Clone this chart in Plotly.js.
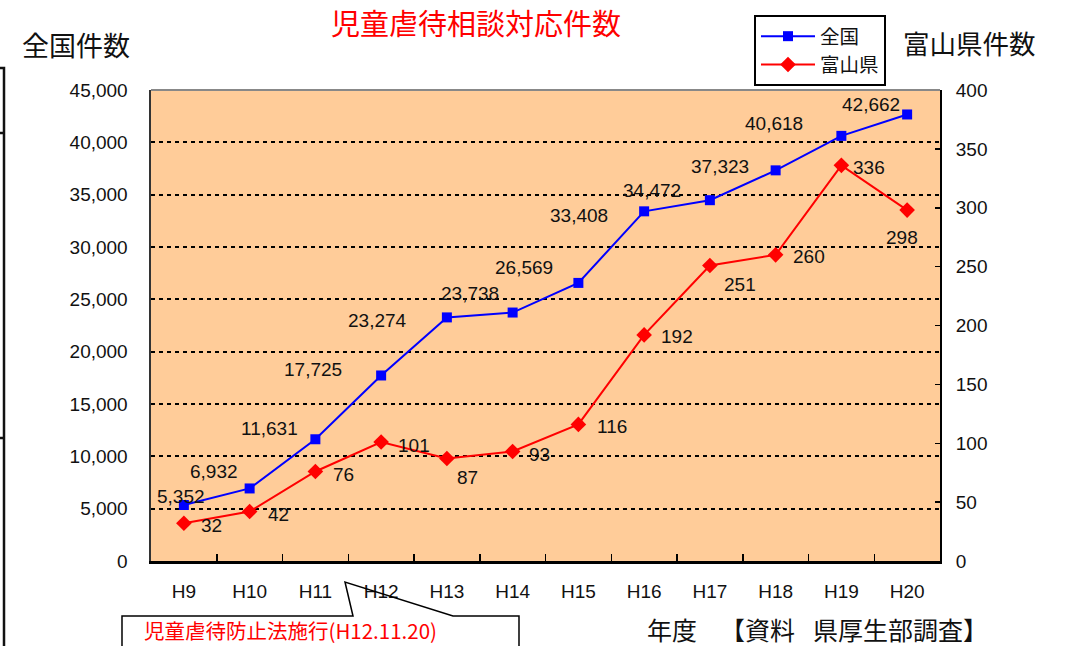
<!DOCTYPE html>
<html>
<head>
<meta charset="utf-8">
<script src="https://cdn.plot.ly/plotly-3.0.1.min.js"></script>
<style>html,body{margin:0;padding:0;background:#fff;}#chart{width:1065px;height:646px;}</style>
</head>
<body>
<div id="chart"></div>
<script>
// ---- data ----
const years = ["H9","H10","H11","H12","H13","H14","H15","H16","H17","H18","H19","H20"];
const national = [5352, 6932, 11631, 17725, 23274, 23738, 26569, 33408, 34472, 37323, 40618, 42662];
const toyama = [32, 42, 76, 101, 87, 93, 116, 192, 251, 260, 336, 298];
const seriesNames = ["全国", "富山県"];
const titleText = "児童虐待相談対応件数";
const leftTitle = "全国件数";
const rightTitle = "富山県件数";
const xTitle = "年度";
const sourceText = "【資料\u2002 県厚生部調査】";
const calloutText = "児童虐待防止法施行(H12.11.20)";

// ---- label offsets (style, px) ----
const natOff = [[-3,-8],[-36,-17],[-46,-11],[-68,-6],[-69,3],[-43,-19],[-54,-15],[-65,4],[-58,-10],[-56,-4],[-67,-12],[-36,-10]];
const toyOff = [[28,2],[29,3],[28,3],[33,3],[21,19],[27,3],[34,2],[33,2],[30,19],[33,2],[28,2],[-5,27]];

const W = 1065, H = 646;
const M = {l:151, r:125, t:90, b:85};
const PW = W - M.l - M.r, PH = H - M.t - M.b;
const fx = x => (x - M.l) / PW;
const fy = y => (H - M.b - y) / PH;

const CJK = '"Noto Sans CJK JP", "Noto Sans", sans-serif';
const LAT = '"Liberation Sans", Arial, sans-serif';
const txtCol = '#111111';

const traces = [
  {x: years, y: national, name: seriesNames[0], type: 'scatter', mode: 'lines+markers',
   line: {color: '#0000ff', width: 2}, marker: {symbol: 'square', size: 10, color: '#0000ff'},
   yaxis: 'y', cliponaxis: false},
  {x: years, y: toyama, name: seriesNames[1], type: 'scatter', mode: 'lines+markers',
   line: {color: '#ff0000', width: 2}, marker: {symbol: 'diamond', size: 12, color: '#ff0000'},
   yaxis: 'y2', cliponaxis: false}
];

const annotations = [];
const fmt = v => v.toLocaleString('en-US');
years.forEach((c, i) => {
  annotations.push({x: c, y: national[i], xref: 'x', yref: 'y', text: fmt(national[i]), showarrow: false,
    xshift: natOff[i][0], yshift: -natOff[i][1], font: {family: LAT, size: 19, color: txtCol}});
  annotations.push({x: c, y: toyama[i], xref: 'x', yref: 'y2', text: String(toyama[i]), showarrow: false,
    xshift: toyOff[i][0], yshift: -toyOff[i][1], font: {family: LAT, size: 19, color: txtCol}});
});
annotations.push({xref: 'paper', yref: 'paper', x: fx(76), y: fy(44), text: leftTitle, showarrow: false,
  xanchor: 'center', yanchor: 'middle', font: {family: CJK, size: 27, color: txtCol}});
annotations.push({xref: 'paper', yref: 'paper', x: fx(969), y: fy(42), text: rightTitle, showarrow: false,
  xanchor: 'center', yanchor: 'middle', font: {family: CJK, size: 26.5, color: txtCol}});
annotations.push({xref: 'paper', yref: 'paper', x: fx(672), y: fy(629), text: xTitle, showarrow: false,
  xanchor: 'center', yanchor: 'middle', font: {family: CJK, size: 25, color: txtCol}});
annotations.push({xref: 'paper', yref: 'paper', x: fx(854), y: fy(629), text: sourceText, showarrow: false,
  xanchor: 'center', yanchor: 'middle', font: {family: CJK, size: 25, color: txtCol}});
annotations.push({xref: 'paper', yref: 'paper', x: fx(142), y: fy(629.5), text: calloutText, showarrow: false,
  xanchor: 'left', yanchor: 'middle', font: {family: CJK, size: 20.5, color: '#ff0000'}});

const P = (x, y) => fx(x).toFixed(5) + ',' + fy(y).toFixed(5);
const shapes = [
  {type: 'line', xref: 'paper', yref: 'paper', x0: 0, x1: 1, y0: 1, y1: 1, line: {color: '#888', width: 2}, layer: 'below'},
  {type: 'path', xref: 'paper', yref: 'paper', layer: 'above',
   path: 'M' + P(122, 660) + ' L' + P(122, 616) + ' L' + P(353, 616) + ' L' + P(345, 582) + ' L' + P(453, 616) + ' L' + P(519, 616) + ' L' + P(519, 660),
   fillcolor: 'rgba(0,0,0,0)', line: {color: '#000', width: 1.5}},
  {type: 'path', xref: 'paper', yref: 'paper', layer: 'above',
   path: 'M' + P(0, 68) + ' L' + P(4, 68) + ' L' + P(4, 660),
   line: {color: '#111', width: 2.5}},
  {type: 'line', xref: 'paper', yref: 'paper', x0: fx(0), x1: fx(4), y0: fy(133), y1: fy(133), line: {color: '#111', width: 2.5}},
  {type: 'line', xref: 'paper', yref: 'paper', x0: fx(0), x1: fx(4), y0: fy(438), y1: fy(438), line: {color: '#111', width: 2.5}}
];

const layout = {
  width: W, height: H,
  margin: M,
  paper_bgcolor: '#ffffff',
  plot_bgcolor: '#ffcc99',
  showlegend: true,
  title: {text: titleText, font: {family: CJK, size: 29, color: '#ff0000'},
    x: 476 / W, xref: 'container', xanchor: 'center', y: 1 - 25 / H, yref: 'container', yanchor: 'middle'},
  legend: {x: fx(754), y: fy(15), xanchor: 'left', yanchor: 'top', bgcolor: '#ffffff',
    bordercolor: '#000', borderwidth: 2, itemwidth: 54, font: {family: CJK, size: 19.5, color: txtCol}, tracegroupgap: 0},
  xaxis: {type: 'category', range: [-0.5, 11.5], showgrid: false, zeroline: false,
    showline: true, linecolor: '#000', linewidth: 2.5, ticks: 'inside', tickson: 'boundaries',
    ticklen: 7, tickwidth: 1.5, tickcolor: '#000', ticklabelstandoff: 12,
    tickfont: {family: LAT, size: 19, color: txtCol}, fixedrange: true},
  yaxis: {range: [0, 45000], dtick: 5000, tickformat: ',d', showgrid: true, gridcolor: '#000', gridwidth: 2,
    griddash: '4px,4px', zeroline: false, showline: true, linecolor: '#333', linewidth: 2.5,
    ticks: 'inside', ticklen: 4, tickwidth: 1.5, tickcolor: '#000', ticklabelstandoff: 17,
    tickfont: {family: LAT, size: 19, color: txtCol}},
  yaxis2: {range: [0, 400], dtick: 50, overlaying: 'y', side: 'right', showgrid: false, zeroline: false,
    showline: true, linecolor: '#000', linewidth: 2, ticks: 'inside', ticklen: 5, tickwidth: 1.5, tickcolor: '#000',
    ticklabelstandoff: 10, tickfont: {family: LAT, size: 19, color: txtCol}},
  annotations: annotations,
  shapes: shapes
};

Plotly.newPlot('chart', traces, layout, {displayModeBar: false, staticPlot: true});
</script>
</body>
</html>
